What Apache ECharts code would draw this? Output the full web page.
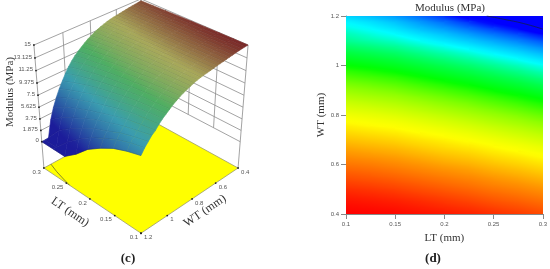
<!DOCTYPE html>
<html><head><meta charset="utf-8">
<style>html,body{margin:0;padding:0;background:#fff}#c{width:550px;height:269px}</style>
<script src="https://cdn.jsdelivr.net/npm/echarts@6/dist/echarts.min.js"></script>
</head><body><div id="c"></div>
<script>
const LT_VALUES = [0.1,0.125,0.15,0.175,0.2,0.225,0.25,0.275,0.3];
const WT_VALUES = [0.4,0.425,0.45,0.475,0.5,0.525,0.55,0.575,0.6,0.625,0.65,0.675,0.7,0.725,0.75,0.775,0.8,0.825,0.85,0.875,0.9,0.925,0.95,0.975,1,1.025,1.05,1.075,1.1,1.125,1.15,1.175,1.2];
const MODULUS = [
[15.00,14.99,14.97,14.94,14.91,14.87,14.82,14.77,14.71],
[14.97,14.95,14.93,14.89,14.85,14.81,14.75,14.70,14.64],
[14.93,14.91,14.88,14.84,14.79,14.74,14.68,14.63,14.57],
[14.88,14.85,14.82,14.77,14.72,14.67,14.61,14.56,14.50],
[14.82,14.79,14.75,14.70,14.65,14.60,14.54,14.49,14.43],
[14.75,14.72,14.68,14.63,14.58,14.53,14.47,14.42,14.35],
[14.68,14.65,14.61,14.56,14.51,14.46,14.40,14.34,14.27],
[14.61,14.58,14.54,14.49,14.44,14.39,14.32,14.26,14.19],
[14.54,14.51,14.47,14.42,14.36,14.31,14.24,14.18,14.11],
[14.47,14.44,14.40,14.34,14.28,14.23,14.16,14.10,14.03],
[14.40,14.36,14.32,14.26,14.20,14.15,14.08,14.02,13.93],
[14.32,14.28,14.24,14.18,14.12,14.07,14.00,13.91,13.79],
[14.24,14.20,14.16,14.10,14.05,13.98,13.88,13.76,13.62],
[14.16,14.12,14.08,14.02,13.95,13.85,13.72,13.59,13.43],
[14.08,14.04,14.00,13.91,13.81,13.69,13.55,13.40,13.23],
[14.00,13.94,13.88,13.77,13.65,13.52,13.35,13.20,13.00],
[13.88,13.81,13.72,13.60,13.47,13.31,13.15,12.96,12.72],
[13.72,13.64,13.55,13.41,13.26,13.10,12.90,12.67,12.42],
[13.55,13.46,13.35,13.21,13.04,12.85,12.60,12.37,12.06],
[13.35,13.25,13.15,12.97,12.77,12.55,12.30,12.00,11.66],
[13.15,13.03,12.90,12.68,12.47,12.23,11.90,11.60,11.26],
[12.90,12.76,12.60,12.38,12.12,11.83,11.50,11.20,10.80],
[12.60,12.46,12.30,12.01,11.72,11.43,11.10,10.72,10.24],
[12.30,12.12,11.90,11.61,11.32,11.01,10.60,10.14,9.58],
[11.90,11.72,11.50,11.21,10.88,10.49,10.00,9.47,8.76],
[11.50,11.32,11.10,10.74,10.34,9.87,9.30,8.62,7.86],
[11.10,10.87,10.60,10.17,9.69,9.14,8.40,7.72,6.90],
[10.60,10.32,10.00,9.50,8.90,8.24,7.50,6.74,5.78],
[10.00,9.68,9.30,8.65,8.00,7.32,6.50,5.59,4.46],
[9.60,9.10,8.60,7.90,7.20,6.30,5.30,4.24,2.76],
[9.00,8.50,7.90,7.00,6.20,5.10,3.90,2.46,0.08],
[8.40,7.90,7.20,6.20,5.10,3.70,2.00,-0.43,-1.98],
[7.60,7.00,6.20,5.00,3.60,1.60,-1.20,-2.19,-3.40]
];
const CONTOUR_LT = [0.243,0.26,0.28,0.3];
const CONTOUR_WT = [1.2,1.187,1.17,1.147];
const LT_TICKS = [0.1,0.15,0.2,0.25,0.3];
const WT_TICKS = [0.4,0.6,0.8,1,1.2];
const Z_TICKS = [0,1.875,3.75,5.625,7.5,9.375,11.25,13.125,15];
const RAMP_VALUES = [2.5,8.6,11.9,14,15];
const RAMP_FLAT = ['#0000ff','#00ffff','#00ff00','#ffff00','#ff0000'];
const RAMP_LIT = ['#1c1c9a','#3a9db0','#4fae62','#a8a85a','#7a2828'];

function hex(c){return [1,3,5].map(i=>parseInt(c.substr(i,2),16));}
function ramp(v,cols){
  if(v<=RAMP_VALUES[0])return cols[0];
  for(let i=1;i<RAMP_VALUES.length;i++){
    if(v<=RAMP_VALUES[i]){
      const t=(v-RAMP_VALUES[i-1])/(RAMP_VALUES[i]-RAMP_VALUES[i-1]);
      const a=hex(cols[i-1]),b=hex(cols[i]);
      return 'rgb('+a.map((x,k)=>Math.round(x+(b[k]-x)*t)).join(',')+')';
    }
  }
  return cols[cols.length-1];
}
const PITCH=33*Math.PI/180, DIST=11.3, HALF=1.016, ZMIN=-4.5, ZMAX=15;
const SP=Math.sin(PITCH), CP=Math.cos(PITCH), R2=Math.SQRT2;
function project(lt,wt,z){
  const p=(lt-0.2)/0.1, q=(wt-0.8)/0.4;
  const zn=-HALF+2*HALF*(z-ZMIN)/(ZMAX-ZMIN);
  const xc=-(p+q)/R2, d=(q-p)/R2;
  const yc=zn*CP-d*SP, zc=zn*SP+d*CP, f=DIST/(DIST-zc);
  return [xc*f,yc*f];
}
const TICKFONT="6px 'Liberation Sans'";
const TICKCOL='#555';

const frameSegs=[];
Z_TICKS.forEach(z=>{
  frameSegs.push([0.3,1.2,z,0.3,0.4,z,0]);
  frameSegs.push([0.3,0.4,z,0.1,0.4,z,0]);
});
LT_TICKS.forEach(l=>frameSegs.push([l,0.4,l===0.1?ZMIN:0,l,0.4,15,0]));
WT_TICKS.forEach(w=>frameSegs.push([0.3,w,w===1.2?ZMIN:0,0.3,w,15,0]));

function segItem(params,api){
  const a=api.coord(project(api.value(0),api.value(1),api.value(2)));
  const b=api.coord(project(api.value(3),api.value(4),api.value(5)));
  return {type:'line',shape:{x1:a[0],y1:a[1],x2:b[0],y2:b[1]},style:{stroke:'#8c8c8c',lineWidth:0.8}};
}
const surfCells=[];
for(let j=0;j<WT_VALUES.length-1;j++){
  for(let i=LT_VALUES.length-2;i>=0;i--) surfCells.push([i,j]);
}
surfCells.sort((a,b)=>(a[1]-a[0])-(b[1]-b[0]));
function planeFill(P,V,cols){
  const ux=(P[1][0]+P[2][0]-P[0][0]-P[3][0])/2, uy=(P[1][1]+P[2][1]-P[0][1]-P[3][1])/2;
  const wx=(P[2][0]+P[3][0]-P[0][0]-P[1][0])/2, wy=(P[2][1]+P[3][1]-P[0][1]-P[1][1])/2;
  const du=(V[1]+V[2]-V[0]-V[3])/2, dw=(V[2]+V[3]-V[0]-V[1])/2;
  const mean=(V[0]+V[1]+V[2]+V[3])/4;
  const det=ux*wy-uy*wx;
  if(Math.abs(det)<0.05)return ramp(mean,cols);
  const gx=(du*wy-dw*uy)/det, gy=(ux*dw-wx*du)/det;
  const g=Math.hypot(gx,gy);
  if(g<1e-6)return ramp(mean,cols);
  const nx=gx/g, ny=gy/g;
  const cx=(P[0][0]+P[1][0]+P[2][0]+P[3][0])/4, cy=(P[0][1]+P[1][1]+P[2][1]+P[3][1])/4;
  let L=0.5;
  P.forEach(q=>{L=Math.max(L,Math.abs((q[0]-cx)*nx+(q[1]-cy)*ny)+0.5);});
  const stops=[0,0.25,0.5,0.75,1].map(t=>({offset:t,color:ramp(mean+g*L*(2*t-1),cols)}));
  return {type:'linear',x:cx-nx*L,y:cy-ny*L,x2:cx+nx*L,y2:cy+ny*L,colorStops:stops,global:true};
}
function surfItem(params,api){
  const i=api.value(0),j=api.value(1);
  const corners=[[i,j],[i+1,j],[i+1,j+1],[i,j+1]];
  const V=corners.map(c=>Math.max(MODULUS[c[1]][c[0]],0));
  const P=corners.map((c,k)=>api.coord(project(LT_VALUES[c[0]],WT_VALUES[c[1]],V[k])));
  const fill=planeFill(P,V,RAMP_LIT);
  return {type:'group',children:[
    {type:'polygon',shape:{points:P},style:{fill:fill,stroke:fill,lineWidth:0.6}},
    {type:'line',shape:{x1:P[2][0],y1:P[2][1],x2:P[3][0],y2:P[3][1]},style:{stroke:'rgba(10,10,40,0.32)',lineWidth:0.6}},
    {type:'line',shape:{x1:P[0][0],y1:P[0][1],x2:P[3][0],y2:P[3][1]},style:{stroke:'rgba(10,10,40,0.05)',lineWidth:0.4}}
  ]};
}
const heatCells=[];
for(let j=WT_VALUES.length-2;j>=0;j--){
  for(let i=0;i<LT_VALUES.length-1;i++) heatCells.push([LT_VALUES[i],WT_VALUES[j],LT_VALUES[i+1],WT_VALUES[j+1],i,j]);
}
function heatItem(params,api){
  const a=api.coord([api.value(0),api.value(1)]);
  const b=api.coord([api.value(2),api.value(3)]);
  const i=api.value(4),j=api.value(5);
  const P=[a,[b[0],a[1]],b,[a[0],b[1]]];
  const V=[MODULUS[j][i],MODULUS[j][i+1],MODULUS[j+1][i+1],MODULUS[j+1][i]];
  return {type:'rect',shape:{x:a[0],y:b[1],width:b[0]-a[0]+1,height:a[1]-b[1]+1},
    style:{fill:planeFill(P,V,RAMP_FLAT)}};
}
function textEl(x,y,text,align){
  return {type:'text',x:x,y:y,style:{text:text,font:TICKFONT,fill:TICKCOL,align:align,verticalAlign:'middle'}};
}
function dot(c){return {type:'circle',shape:{cx:c[0],cy:c[1],r:0.9},style:{fill:'#222'}};}
function tickLabelItem(params,api){
  const kind=api.value(0),v=api.value(1);
  if(kind===0){
    const c=api.coord(project(v,1.2,ZMIN));
    return {type:'group',children:[dot(c),textEl(c[0]-3,c[1]+4,String(v),'right')]};
  }
  if(kind===1){
    const c=api.coord(project(0.1,v,ZMIN));
    return {type:'group',children:[dot(c),textEl(c[0]+3,c[1]+4,String(v),'left')]};
  }
  const c=api.coord(project(0.3,1.2,v));
  return {type:'group',children:[dot(c),textEl(c[0]-3,c[1]-1,String(v),'right')]};
}
const tickRows=[].concat(LT_TICKS.map(v=>[0,v]),WT_TICKS.map(v=>[1,v]),Z_TICKS.map(v=>[2,v]));

const SERIF="'Liberation Serif'";
const chart=echarts.init(document.getElementById('c'),null,{renderer:'canvas'});
chart.setOption({
  animation:false,
  backgroundColor:'#fff',
  title:{text:'Modulus (MPa)',left:450,top:3,textAlign:'center',padding:0,
    textStyle:{fontFamily:SERIF,fontSize:11,fontWeight:'normal',color:'#333'}},
  grid:[
    {left:0,top:0,width:275,height:269},
    {left:346,top:16,width:197,height:198}
  ],
  xAxis:[
    {gridIndex:0,type:'value',min:-1.958,max:1.861,show:false},
    {gridIndex:1,type:'value',min:0.1,max:0.3,interval:0.05,
     axisLine:{lineStyle:{color:'#888'}},axisTick:{length:5,lineStyle:{color:'#888'}},splitLine:{show:false},
     axisLabel:{fontFamily:'Liberation Sans',fontSize:6,color:TICKCOL,margin:7},
     name:'LT (mm)',nameLocation:'middle',nameGap:19,
     nameTextStyle:{fontFamily:SERIF,fontSize:11,color:'#333'}}
  ],
  yAxis:[
    {gridIndex:0,type:'value',min:-2.215,max:1.521,show:false},
    {gridIndex:1,type:'value',min:0.4,max:1.2,interval:0.2,
     axisLine:{show:true,lineStyle:{color:'#888'}},axisTick:{show:true,length:5,lineStyle:{color:'#888'}},splitLine:{show:false},
     axisLabel:{fontFamily:'Liberation Sans',fontSize:6,color:TICKCOL,margin:7},
     name:'WT (mm)',nameLocation:'middle',nameGap:19,
     nameTextStyle:{fontFamily:SERIF,fontSize:11,color:'#333'}}
  ],
  graphic:[
    {type:'text',x:10,y:92,rotation:Math.PI/2,style:{text:'Modulus (MPa)',font:"11px "+SERIF,fill:'#333',align:'center',verticalAlign:'middle'}},
    {type:'text',x:70,y:212,rotation:-0.6,style:{text:'LT (mm)',font:"12px "+SERIF,fill:'#333',align:'center',verticalAlign:'middle'}},
    {type:'text',x:205,y:211,rotation:0.6,style:{text:'WT (mm)',font:"12px "+SERIF,fill:'#333',align:'center',verticalAlign:'middle'}},
    {type:'text',x:128,y:259,style:{text:'(c)',font:"bold 13px "+SERIF,fill:'#222',align:'center',verticalAlign:'middle'}},
    {type:'text',x:433,y:259,style:{text:'(d)',font:"bold 13px "+SERIF,fill:'#222',align:'center',verticalAlign:'middle'}}
  ],
  series:[
    {type:'custom',name:'walls',xAxisIndex:0,yAxisIndex:0,clip:false,data:frameSegs,renderItem:segItem},
    {type:'custom',name:'floor',xAxisIndex:0,yAxisIndex:0,clip:false,data:[[0]],
     renderItem:function(p,api){
       const pts=[[0.3,1.2],[0.1,1.2],[0.1,0.4],[0.3,0.4]].map(c=>api.coord(project(c[0],c[1],ZMIN)));
       return {type:'polygon',shape:{points:pts},style:{fill:'#ffff00',stroke:'#9a9a70',lineWidth:0.8}};
     }},
    {type:'custom',name:'floorContour',xAxisIndex:0,yAxisIndex:0,clip:false,
     data:CONTOUR_LT.slice(1).map((l,i)=>[CONTOUR_LT[i],CONTOUR_WT[i],ZMIN,l,CONTOUR_WT[i+1],ZMIN]),
     renderItem:function(p,api){
       const a=api.coord(project(api.value(0),api.value(1),api.value(2)));
       const b=api.coord(project(api.value(3),api.value(4),api.value(5)));
       return {type:'line',shape:{x1:a[0],y1:a[1],x2:b[0],y2:b[1]},style:{stroke:'#6a6a30',lineWidth:0.8}};
     }},
    {type:'custom',name:'surface',xAxisIndex:0,yAxisIndex:0,clip:false,data:surfCells,renderItem:surfItem},
    {type:'custom',name:'ticks3d',xAxisIndex:0,yAxisIndex:0,clip:false,data:tickRows,renderItem:tickLabelItem},
    {type:'custom',name:'heat',xAxisIndex:1,yAxisIndex:1,clip:true,data:heatCells,renderItem:heatItem},
    {type:'line',name:'zero',xAxisIndex:1,yAxisIndex:1,showSymbol:false,smooth:true,
     data:CONTOUR_LT.map((l,i)=>[l,CONTOUR_WT[i]]),lineStyle:{color:'#101c60',width:0.9}}
  ]
});
</script></body></html>
